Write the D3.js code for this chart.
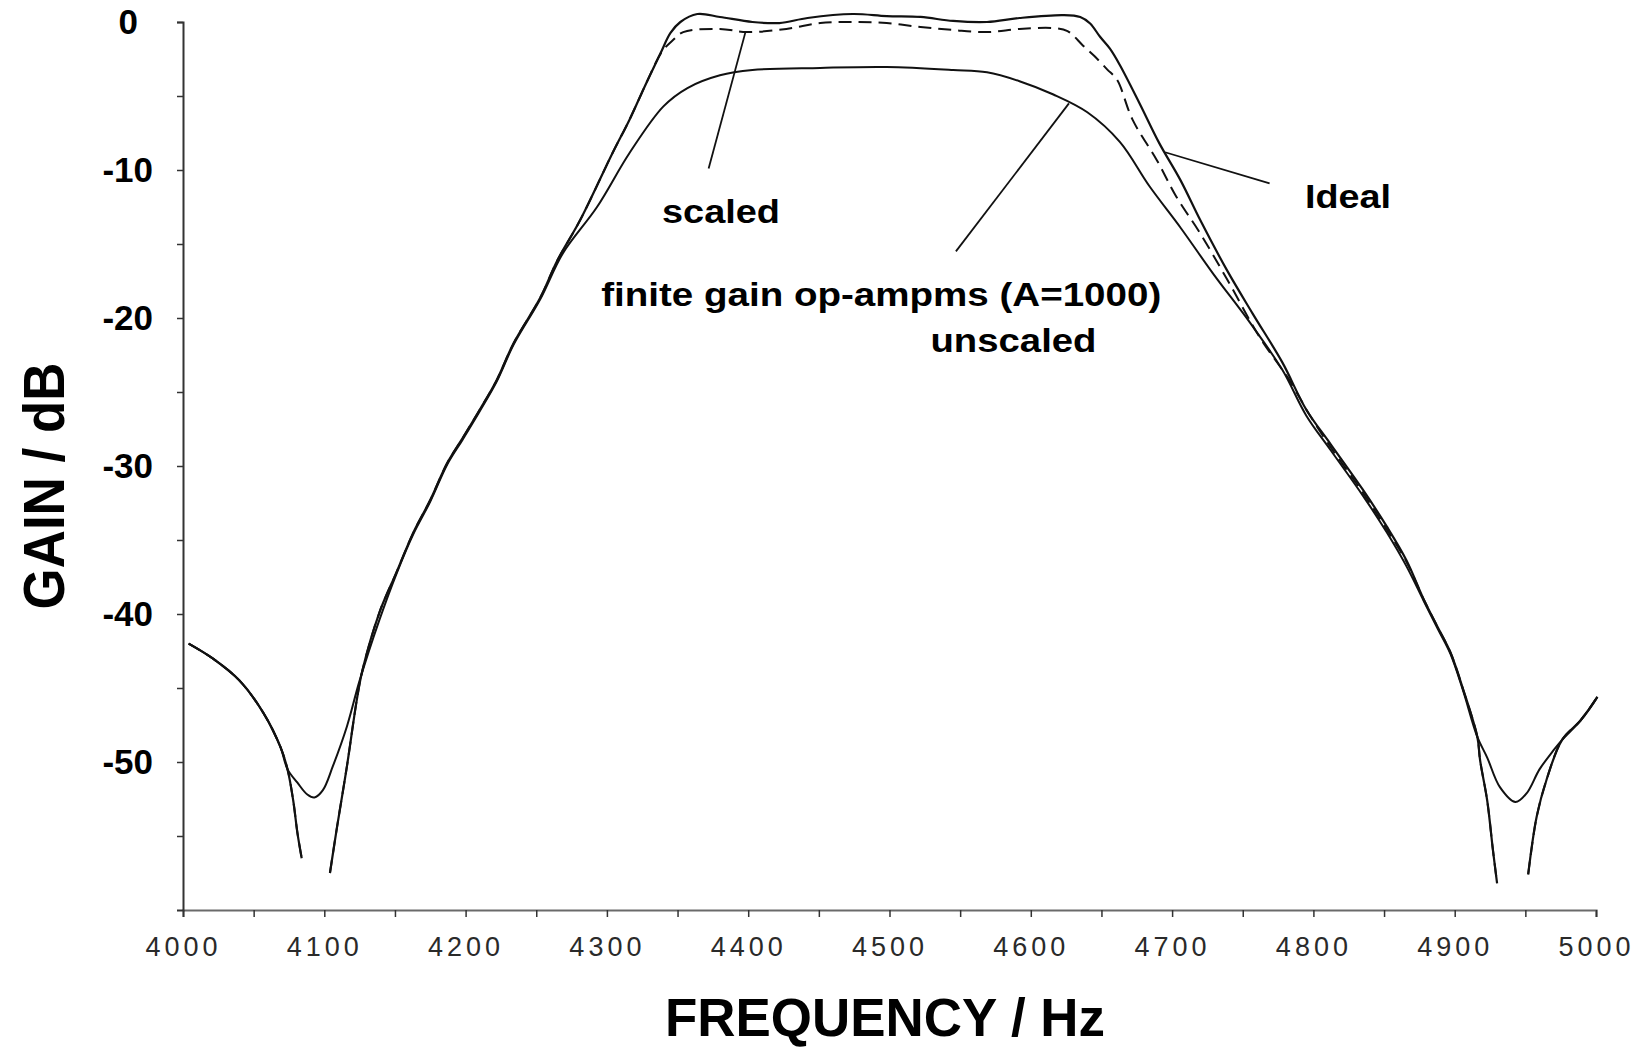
<!DOCTYPE html>
<html>
<head>
<meta charset="utf-8">
<script src="https://cdn.jsdelivr.net/npm/d3@7"></script>
<style>
  body { margin: 0; background: #fff; }
  svg { display: block; }
</style>
</head>
<body>
<div id="chart"></div>
<script>
// frequency response of the band-pass filter
// null marks where a notch runs off the bottom of the plot
var freqIdeal = [4004, 4021, 4040, 4057, 4069, 4074, 4078, 4081, 4084, 4094,
  4104, 4109, 4116, 4123, 4127, 4139, 4151, 4163, 4175, 4187, 4198, 4210, 4222,
  4234, 4253, 4265, 4281, 4304, 4316, 4328, 4338, 4345, 4352, 4364, 4380, 4403,
  4422, 4442, 4474, 4498, 4522, 4545, 4569, 4592, 4623, 4635, 4642, 4649, 4656,
  4663, 4677, 4691, 4706, 4720, 4739, 4757, 4778, 4795, 4812, 4835, 4852, 4866,
  4878, 4888, 4897, 4906, 4916, 4918, 4923, 4927, 4930, 4941, 4952, 4958, 4965,
  4976, 4989, 5001];
var gainIdeal = [-42.0, -43.0, -44.5, -46.7, -49.0, -50.5, -52.6, -54.8, -56.5, null,
  -57.5, -54.4, -50.3, -45.8, -43.8, -39.9, -37.2, -34.5, -32.3, -29.8, -28.1, -26.2, -24.2,
  -21.7, -18.6, -16.1, -13.4, -8.85, -6.6, -4.1, -2.1, -0.74, 0, 0.54, 0.34, 0,
  -0.07, 0.27, 0.54, 0.4, 0.34, 0.07, 0, 0.27, 0.47, 0.34, -0.1, -1.0, -1.8,
  -2.9, -5.5, -8.2, -10.7, -13.4, -16.8, -19.7, -23.0, -26.2, -28.5, -31.6, -34.1, -36.4,
  -39.0, -40.9, -42.6, -45.1, -48.3, -49.9, -52.6, -55.9, -58.2, null, -57.6, -53.7, -51.2,
  -48.5, -47.2, -45.6];

var freqScaled = [4004, 4021, 4040, 4057, 4069, 4074, 4078, 4081, 4084, 4094,
  4104, 4109, 4116, 4123, 4127, 4139, 4151, 4163, 4175, 4187, 4198, 4210, 4222,
  4234, 4253, 4265, 4281, 4304, 4316, 4328, 4339, 4347, 4354, 4380, 4399, 4427,
  4451, 4474, 4498, 4522, 4545, 4569, 4592, 4616, 4626, 4637, 4645, 4654, 4661,
  4672, 4689, 4703, 4720, 4739, 4762, 4783, 4797, 4812, 4835, 4852, 4866, 4878,
  4888, 4897, 4906, 4916, 4918, 4923, 4927, 4930, 4941, 4952, 4958, 4965, 4976,
  4989, 5001];
var gainScaled = [-42.0, -43.0, -44.5, -46.7, -49.0, -50.5, -52.6, -54.8, -56.5, null,
  -57.5, -54.4, -50.3, -45.8, -43.8, -39.9, -37.2, -34.5, -32.3, -29.8, -28.1, -26.2, -24.2,
  -21.7, -18.6, -16.1, -13.4, -8.85, -6.6, -4.1, -2.0, -1.2, -0.68, -0.47, -0.68, -0.47,
  -0.07, 0, -0.07, -0.34, -0.54, -0.68, -0.47, -0.41, -0.61, -1.6, -2.3, -3.2, -3.9,
  -6.6, -9.3, -11.8, -14.3, -17.4, -21.3, -24.2, -26.5, -28.7, -31.8, -34.3, -36.5, -39.0,
  -40.9, -42.6, -45.1, -48.3, -49.9, -52.6, -55.9, -58.2, null, -57.6, -53.7, -51.2, -48.5,
  -47.2, -45.6];

var freqUnscaled = [4004, 4021, 4040, 4057, 4069, 4074, 4081, 4088, 4093, 4099,
  4106, 4116, 4125, 4139, 4151, 4163, 4175, 4187, 4198, 4210, 4222, 4234, 4253,
  4269, 4293, 4316, 4340, 4357, 4380, 4403, 4451, 4498, 4545, 4569, 4592, 4616,
  4640, 4663, 4684, 4706, 4729, 4755, 4778, 4795, 4812, 4835, 4852, 4866, 4878,
  4888, 4897, 4906, 4916, 4923, 4932, 4943, 4951, 4960, 4970, 4976, 4989, 5001];
var gainUnscaled = [-42.0, -43.0, -44.5, -46.7, -49.0, -50.5, -51.4, -52.2, -52.4, -51.9,
  -50.3, -47.6, -44.5, -40.4, -37.3, -34.6, -32.4, -29.9, -28.2, -26.3, -24.3, -21.8, -18.7,
  -15.6, -12.5, -8.85, -5.7, -4.46, -3.6, -3.24, -3.1, -3.04, -3.24, -3.4, -4.0, -4.9,
  -6.1, -8.1, -11.1, -13.9, -17.0, -20.3, -23.5, -26.6, -28.9, -32.0, -34.5, -36.8, -39.1,
  -41.0, -42.7, -45.2, -48.3, -49.7, -51.7, -52.7, -52.1, -50.5, -49.2, -48.5, -47.2, -45.6];

// axis ticks
var xTickValues = [4000, 4100, 4200, 4300, 4400, 4500, 4600, 4700, 4800, 4900, 5000];
var yTickValues = [0, -10, -20, -30, -40, -50];

// annotation texts and leader lines, in data units
var labelTexts = ["scaled", "finite gain op-ampms (A=1000)", "unscaled", "Ideal"];
var labelFreq = [4339, 4296, 4529, 4794];
var labelGain = [-13.6, -19.2, -22.3, -12.6];
var labelWidth = [118, 560, 166, 86];
var leaderFrom = [[4372, -9.9], [4547, -15.5], [4769, -10.9]];
var leaderTo = [[4398, -0.7], [4627, -5.5], [4695, -8.8]];

var width = 1648,
    height = 1048;

var svg = d3.select("#chart")
  .append("svg")
  .attr("width", width)
  .attr("height", height);

var x = d3.scaleLinear().domain([4000, 5000]).range([183, 1596]);
var y = d3.scaleLinear().domain([-60, 0]).range([910, 22]);

function toPoints(freq, gain) {
  return freq.map(function (f, i) { return {f: f, g: gain[i]}; });
}

var line = d3.line()
  .defined(function (d) { return d.g != null; })
  .x(function (d) { return x(d.f); })
  .y(function (d) { return y(d.g); })
  .curve(d3.curveCatmullRom.alpha(0.5));

// x axis: minor ticks every 50 Hz, labels every 100
var xAxis = svg.append("g")
  .attr("transform", "translate(0," + y(-60) + ")")
  .call(d3.axisBottom(x)
    .tickValues(d3.range(4000, 5001, 50))
    .tickSize(7)
    .tickFormat(function (d) { return xTickValues.indexOf(d) >= 0 ? d : ""; }));
xAxis.select(".domain").attr("stroke", "#6a6a6a").attr("stroke-width", 2.2);
xAxis.selectAll(".tick line").attr("stroke", "#333").attr("stroke-width", 1.5);
xAxis.selectAll(".tick text")
  .attr("y", 46)
  .attr("dy", 0)
  .style("font-family", "'Liberation Sans', Arial, sans-serif")
  .style("font-size", "27px")
  .style("letter-spacing", "4px")
  .style("fill", "#2a2a2a");

// y axis: ticks every 5 dB, labels every 10
var yAxis = svg.append("g")
  .attr("transform", "translate(" + x(4000) + ",0)")
  .call(d3.axisLeft(y)
    .tickValues(d3.range(-55, 1, 5))
    .tickSize(6)
    .tickPadding(24)
    .tickFormat(function (d) { return yTickValues.indexOf(d) >= 0 ? d : ""; }));
yAxis.select(".domain").attr("stroke", "#333").attr("stroke-width", 2);
yAxis.selectAll(".tick line").attr("stroke", "#333").attr("stroke-width", 1.5);
yAxis.selectAll(".tick text")
  .style("font-family", "'Liberation Sans', Arial, sans-serif")
  .style("font-weight", "bold")
  .style("font-size", "35px")
  .style("fill", "#000")
  .text(function (d) { return yTickValues.indexOf(d) >= 0 ? String(d).replace("\u2212", "-") : ""; });
// the "0" sits a little left of the other labels
yAxis.selectAll(".tick text")
  .filter(function (d) { return d == 0; })
  .attr("x", -45);

// curves
var curves = [
  {pts: toPoints(freqIdeal, gainIdeal), dash: null, w: 2.2},
  {pts: toPoints(freqUnscaled, gainUnscaled), dash: null, w: 2},
  {pts: toPoints(freqScaled, gainScaled), dash: "13,7", w: 2}
];

svg.append("g")
  .selectAll("path")
  .data(curves)
  .enter().append("path")
  .attr("d", function (d) { return line(d.pts); })
  .attr("fill", "none")
  .attr("stroke", "#111")
  .attr("stroke-width", function (d) { return d.w; })
  .attr("stroke-dasharray", function (d) { return d.dash; });

// leader lines from labels to curves
svg.append("g")
  .selectAll("line")
  .data(leaderFrom)
  .enter().append("line")
  .attr("x1", function (d) { return x(d[0]); })
  .attr("y1", function (d) { return y(d[1]); })
  .attr("x2", function (d, i) { return x(leaderTo[i][0]); })
  .attr("y2", function (d, i) { return y(leaderTo[i][1]); })
  .attr("stroke", "#111")
  .attr("stroke-width", 1.8);

// annotation labels
svg.append("g")
  .selectAll("text")
  .data(labelTexts)
  .enter().append("text")
  .attr("x", function (d, i) { return x(labelFreq[i]); })
  .attr("y", function (d, i) { return y(labelGain[i]); })
  .attr("textLength", function (d, i) { return labelWidth[i]; })
  .attr("lengthAdjust", "spacingAndGlyphs")
  .style("font-family", "'Liberation Sans', Arial, sans-serif")
  .style("font-weight", "bold")
  .style("font-size", "34px")
  .style("fill", "#000")
  .text(function (d) { return d; });

// axis titles
svg.append("text")
  .attr("x", 885)
  .attr("y", 1036)
  .attr("text-anchor", "middle")
  .attr("textLength", 440)
  .attr("lengthAdjust", "spacingAndGlyphs")
  .style("font-family", "'Liberation Sans', Arial, sans-serif")
  .style("font-weight", "bold")
  .style("font-size", "54px")
  .text("FREQUENCY / Hz");

svg.append("text")
  .attr("transform", "translate(64,486) rotate(-90)")
  .attr("text-anchor", "middle")
  .attr("textLength", 247)
  .attr("lengthAdjust", "spacingAndGlyphs")
  .style("font-family", "'Liberation Sans', Arial, sans-serif")
  .style("font-weight", "bold")
  .style("font-size", "58px")
  .text("GAIN / dB");
</script>
</body>
</html>
